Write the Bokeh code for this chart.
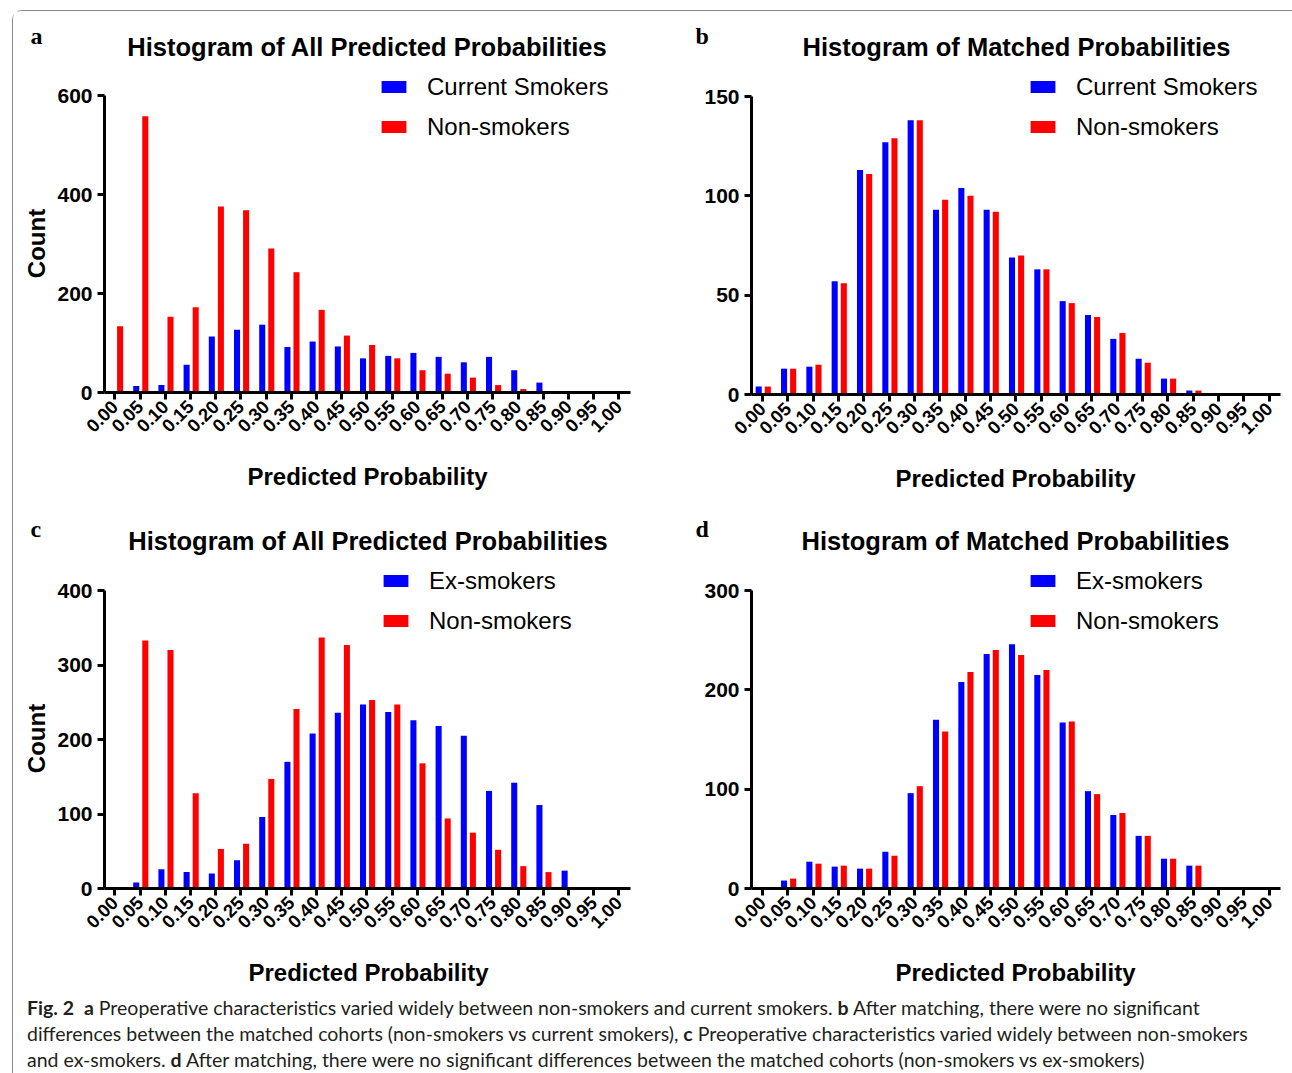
from math import pi
from bokeh.plotting import figure
from bokeh.models import Range1d, FixedTicker, Label, Legend, LegendItem, Div
from bokeh.layouts import column, row
from bokeh.embed import file_html
from bokeh.resources import INLINE

# ---------------- data ----------------
tick_labels = ["0.00", "0.05", "0.10", "0.15", "0.20", "0.25", "0.30", "0.35", "0.40", "0.45",
               "0.50", "0.55", "0.60", "0.65", "0.70", "0.75", "0.80", "0.85", "0.90", "0.95", "1.00"]
bins = list(range(len(tick_labels)))

a_current = [3, 13, 15, 56, 113, 127, 137, 92, 103, 93, 69, 74, 80, 72, 61, 72, 45, 20, 0, 0, 0]
a_non = [134, 558, 153, 172, 376, 368, 291, 243, 167, 115, 96, 69, 45, 38, 30, 15, 7, 0, 0, 0, 0]

b_current = [4, 13, 14, 57, 113, 127, 138, 93, 104, 93, 69, 63, 47, 40, 28, 18, 8, 2, 0, 0, 0]
b_non = [4, 13, 15, 56, 111, 129, 138, 98, 100, 92, 70, 63, 46, 39, 31, 16, 8, 2, 0, 0, 0]

c_ex = [0, 8, 26, 22, 20, 38, 96, 170, 208, 236, 247, 237, 226, 218, 205, 131, 142, 112, 24, 0, 0]
c_non = [0, 333, 320, 128, 53, 60, 147, 241, 337, 327, 253, 247, 168, 94, 75, 52, 30, 22, 0, 0, 0]

d_ex = [0, 8, 27, 22, 20, 37, 96, 170, 208, 236, 246, 215, 167, 98, 74, 53, 30, 23, 0, 0, 0]
d_non = [0, 10, 25, 23, 20, 33, 103, 158, 218, 240, 235, 220, 168, 95, 76, 53, 30, 23, 0, 0, 0]

FONT = "Liberation Sans"
SERIF = "Liberation Serif"
BLUE = "#0000FF"
RED = "#FF0000"


def panel(box, xmap, ymap, ymax, yticks, letter, title, title_pos, count_y, xlabel_pos,
          s1_name, s1, s2_name, s2, legend_pos):
    # box: page-pixel extent of the whole figure (left, top, right, bottom)
    fx0, fy0, fx1, fy1 = box
    w, h = fx1 - fx0, fy1 - fy0
    # xmap: (page x of first tick, px per bin, page x of y-axis, page x of axis end)
    x0p, sx, yaxis_px, xend_px = xmap
    # ymap: (page y of zero, page y of ymax)
    y0p, ytop_p = ymap
    sy = (y0p - ytop_p) / ymax
    xr = Range1d((fx0 - x0p) / sx, (fx1 - x0p) / sx)
    yr = Range1d(-(fy1 - y0p) / sy, (y0p - fy0) / sy)
    x_axis_at = (yaxis_px - x0p) / sx
    x_axis_end = (xend_px - x0p) / sx

    p = figure(width=w, height=h, output_backend="svg", toolbar_location=None,
               x_range=xr, y_range=yr, min_border=0,
               min_border_left=0, min_border_right=0, min_border_top=0, min_border_bottom=0)
    p.outline_line_color = None
    p.grid.visible = False
    p.background_fill_color = "white"
    p.border_fill_color = "white"

    xs1 = [b - 0.15 for b in bins]
    xs2 = [b + 0.21 for b in bins]
    r1 = p.vbar(x=xs1, top=s1, width=0.24, bottom=0, fill_color=BLUE, line_color=None)
    r2 = p.vbar(x=xs2, top=s2, width=0.24, bottom=0, fill_color=RED, line_color=None)

    for ax in (p.xaxis[0], p.yaxis[0]):
        ax.axis_line_width = 3
        ax.axis_line_color = "black"
        ax.major_tick_line_width = 3
        ax.major_tick_line_color = "black"
        ax.major_tick_out = 7
        ax.major_tick_in = 0
        ax.minor_tick_line_color = None
        ax.major_label_text_font = FONT
        ax.major_label_text_font_style = "bold"
        ax.major_label_text_color = "black"

    xa = p.xaxis[0]
    xa.fixed_location = 0
    xa.bounds = (x_axis_at, x_axis_end)
    xa.ticker = FixedTicker(ticks=bins)
    xa.major_label_overrides = {b: t for b, t in zip(bins, tick_labels)}
    xa.major_label_orientation = pi / 4
    xa.major_label_text_font_size = "18.5px"
    xa.major_label_standoff = 4

    ya = p.yaxis[0]
    ya.fixed_location = x_axis_at
    ya.bounds = (0, ymax)
    ya.ticker = FixedTicker(ticks=yticks)
    ya.major_label_text_font_size = "21px"
    ya.major_label_standoff = 5

    def lab(px, py, text, **kw):
        opts = dict(text_font=FONT, text_font_style="bold", text_color="black",
                    text_align="center", text_baseline="middle")
        opts.update(kw)
        p.add_layout(Label(x=px - fx0, y=fy1 - py, x_units="screen", y_units="screen",
                           text=text, **opts))

    lab(title_pos[0], title_pos[1], title, text_font_size="25.5px", text_baseline="alphabetic")
    lab(letter[1], letter[2], letter[0], text_font=SERIF, text_font_size="24px",
        text_align="left", text_baseline="alphabetic")
    lab(36, count_y, "Count", text_font_size="24px", angle=pi / 2)
    lab(xlabel_pos[0], xlabel_pos[1], "Predicted Probability", text_font_size="24px")

    gx, row2_center = legend_pos
    legend = Legend(items=[LegendItem(label=s1_name, renderers=[r1]),
                           LegendItem(label=s2_name, renderers=[r2])],
                    location=(gx - fx0, fy1 - (row2_center + 15)), orientation="vertical",
                    glyph_width=31, glyph_height=15, label_standoff=18,
                    label_height=30, spacing=10, padding=0, margin=0,
                    border_line_color=None, background_fill_alpha=0,
                    label_text_font=FONT, label_text_font_size="24px",
                    label_text_color="black")
    p.add_layout(legend)
    return p


XL, XM, XR = 13, 655, 1290
YT, YM, YB = 11, 500, 990
xmap_left = (114.3, 25.2, 104, 630)
xmap_right = (762.0, 25.33, 751, 1280)

pa = panel((XL, YT, XM, YM), xmap_left, (392, 95), 600, [0, 200, 400, 600],
           ("a", 30, 35), "Histogram of All Predicted Probabilities", (367, 46), 243, (367, 476),
           "Current Smokers", a_current, "Non-smokers", a_non, (378, 126.5))
pb = panel((XM, YT, XR, YM), xmap_right, (394, 96), 150, [0, 50, 100, 150],
           ("b", 695, 35), "Histogram of Matched Probabilities", (1016, 46), 245, (1015, 478),
           "Current Smokers", b_current, "Non-smokers", b_non, (1027, 126.5))
pc = panel((XL, YM, XM, YB), xmap_left, (888, 590), 400, [0, 100, 200, 300, 400],
           ("c", 30, 528), "Histogram of All Predicted Probabilities", (368, 540), 738, (368, 972),
           "Ex-smokers", c_ex, "Non-smokers", c_non, (380, 620.5))
pd = panel((XM, YM, XR, YB), xmap_right, (888, 590), 300, [0, 100, 200, 300],
           ("d", 695, 528), "Histogram of Matched Probabilities", (1015, 540), 738, (1015, 972),
           "Ex-smokers", d_ex, "Non-smokers", d_non, (1027, 620.5))

caption = Div(
    text=("<b>Fig. 2</b>&nbsp; <b>a</b> Preoperative characteristics varied widely between non-smokers "
          "and current smokers. <b>b</b> After matching, there were no significant<br>"
          "differences between the matched cohorts (non-smokers vs current smokers), <b>c</b> Preoperative "
          "characteristics varied widely between non-smokers<br>"
          "and ex-smokers. <b>d</b> After matching, there were no significant differences between the "
          "matched cohorts (non-smokers vs ex-smokers)"),
    width=XR - XL, height=78,
    styles={"font-family": "Lato", "font-size": "19.5px", "line-height": "26px",
            "padding-left": "9px", "padding-top": "0px", "white-space": "nowrap",
            "color": "#231f20"})

layout = column(row(pa, pb), row(pc, pd), caption,
                margin=(10, 0, 0, 12),
                styles={"border-top": "1px solid #888", "border-left": "1px solid #888",
                        "border-right": "1px solid #888",
                        "border-radius": "10px 10px 0 0"})

open("out.html", "w").write(file_html(layout, INLINE))
